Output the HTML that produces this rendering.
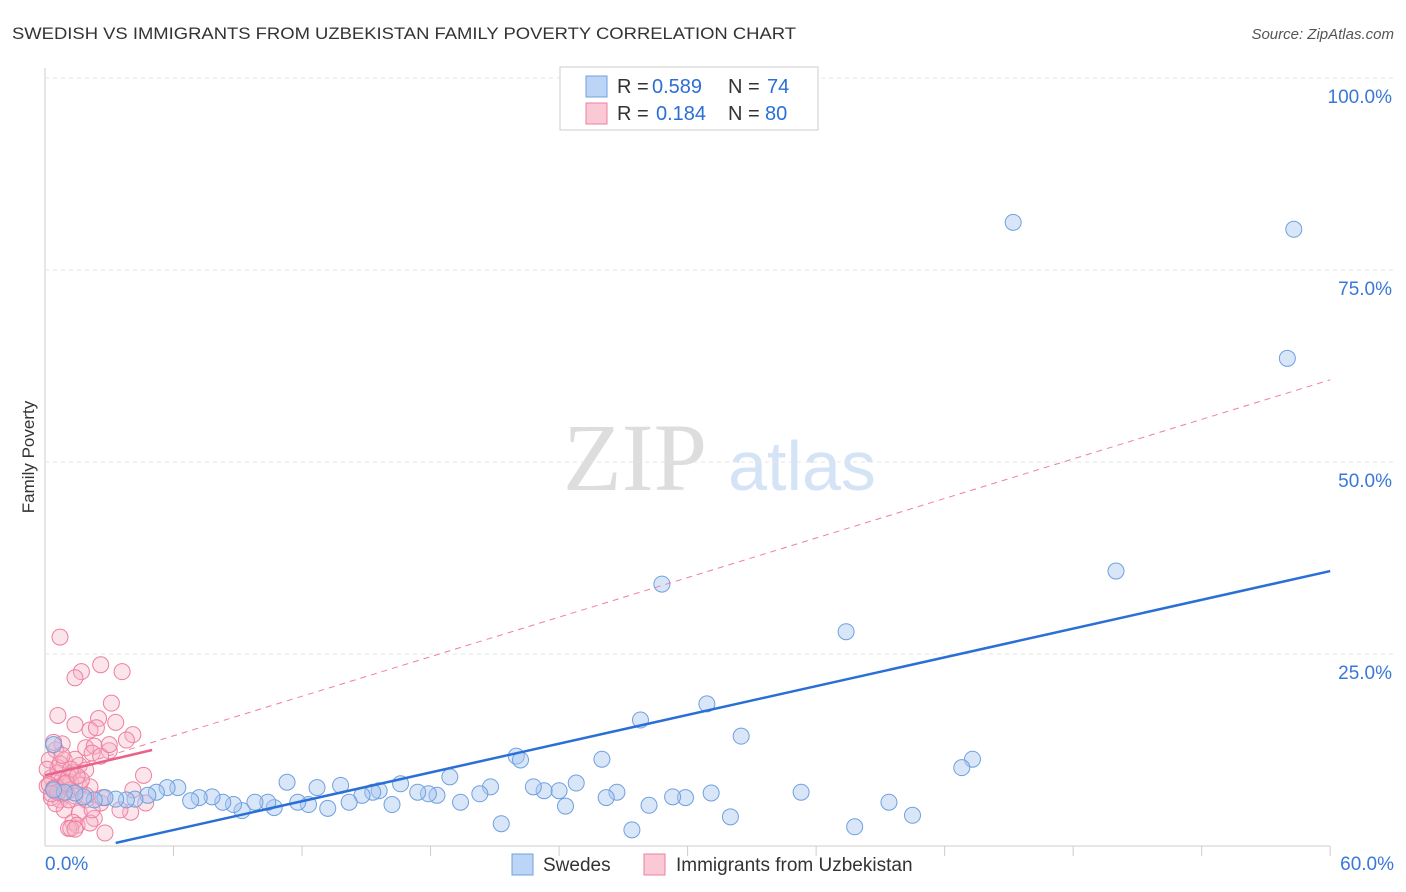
<!DOCTYPE html>
<html><head><meta charset="utf-8"><style>
body{margin:0;background:#fff;font-family:"Liberation Sans",sans-serif;}
svg{display:block}
</style></head><body>
<svg id="c" width="1406" height="892">
<text x="12" y="39" font-size="17" fill="#333" textLength="784" lengthAdjust="spacingAndGlyphs">SWEDISH VS IMMIGRANTS FROM UZBEKISTAN FAMILY POVERTY CORRELATION CHART</text>
<text x="1394" y="39" font-size="15" fill="#555" font-style="italic" text-anchor="end">Source: ZipAtlas.com</text>
<text x="34" y="457" font-size="17" fill="#333" text-anchor="middle" transform="rotate(-90 34 457)">Family Poverty</text>
<g><text x="635" y="490" font-size="96" fill="#ddd" font-family="Liberation Serif,serif" text-anchor="middle">ZIP</text><text x="802" y="490" font-size="70" fill="#d4e3f5" text-anchor="middle">atlas</text></g>
<g id="grid"></g><g id="pts"></g><g id="lines"></g>
<g>
<rect x="560" y="67" width="258" height="63" fill="#fff" stroke="#ccc"/>
<rect x="586" y="76" width="21" height="21" fill="#bcd4f5" stroke="#6fa0e0"/>
<rect x="586" y="103" width="21" height="21" fill="#fbc8d6" stroke="#ee7fa0"/>
<text x="617" y="93" font-size="20" fill="#333">R = <tspan x="652" fill="#2a6fd6">0.589</tspan><tspan x="728">N = </tspan><tspan x="767" fill="#2a6fd6">74</tspan></text>
<text x="617" y="120" font-size="20" fill="#333">R = <tspan x="656" fill="#2a6fd6">0.184</tspan><tspan x="728">N = </tspan><tspan x="765" fill="#2a6fd6">80</tspan></text>
</g>
<g>
<rect x="512" y="854" width="21" height="21" fill="#bcd4f5" stroke="#6fa0e0"/><text x="543" y="871" font-size="19" fill="#333">Swedes</text>
<rect x="644" y="854" width="21" height="21" fill="#fbc8d6" stroke="#ee7fa0"/><text x="676" y="871" font-size="19" fill="#333">Immigrants from Uzbekistan</text>
</g>
</svg>
<script>
const yTicks=[25,50,75,100];
const xLabels=["0.0%","60.0%"];
const blueX=[45.2,58.3,58,50,28.8,37.4,30.9,27.8,32.5,22,22.2,26,43.3,42.8,35.3,31.1,29.9,29.3,26.7,26.2,28.2,24.8,24,23.3,22.8,24.3,20.8,20.3,19.4,18.9,18.3,17.9,17.4,16.6,16.2,15.6,15.3,14.8,14.2,13.8,13.2,12.7,12.3,11.8,11.3,10.7,10.4,9.8,9.2,8.8,8.3,7.8,7.2,6.8,6.2,5.7,5.2,4.8,4.2,3.8,3.3,2.8,2.3,1.8,1.4,0.9,0.4,0.4,21.3,27.4,32,37.8,39.4,40.5];
const blueY=[81.2,80.3,63.5,35.8,34.1,27.9,18.5,16.4,14.3,11.7,11.2,11.3,11.3,10.2,7.0,6.9,6.3,6.4,7,6.3,5.3,8.2,7.2,7.2,7.7,5.2,7.7,6.8,5.7,9.0,6.6,6.8,7.0,8.1,5.4,7.2,7,6.6,5.7,7.9,4.9,7.6,5.4,5.7,8.3,5.0,5.7,5.7,4.6,5.4,5.7,6.4,6.3,5.9,7.6,7.6,7,6.6,6.1,6,6.1,6.3,6,6.4,6.9,7,13.2,7.3,2.9,2.1,3.8,2.5,5.7,4.0];
const pinkX=[0.7,2.6,1.7,1.4,3.6,3.1,0.6,2.5,1.4,3.3,2.1,4.1,0.8,1.9,2.3,3.8,3.0,2.2,2.6,4.6,0.5,0.9,0.6,1.3,1.6,1.9,0.3,0.8,1.2,1.6,2.1,0.5,1.0,1.4,0.1,0.3,0.7,1.9,2.6,2.7,0.9,1.6,2.3,1.3,1.5,1.1,2.1,2.8,4,4.7,0.2,0.6,1.1,1.7,0.5,0.9,1.2,0.1,0.7,1.4,1.9,2.2,0.5,0.8,1.1,3.5,4.1,1.2,1.4,3,2.4,0.8,0.4,1.2,0.2,0.4,0.6,1.0,1.5,0.3];
const pinkY=[27.2,23.6,22.7,21.9,22.7,18.6,17,16.6,15.8,16.1,15.1,14.5,13.3,12.8,13,13.8,12.4,12.1,11.7,9.2,12.5,11.2,10.2,9.6,10.5,9.9,8.9,8.6,8.3,7.9,7.7,7.3,7,6.5,7.8,6.3,6.0,6.0,5.6,6.3,4.7,4.3,3.6,3.1,2.7,2.3,3,1.7,4.4,5.6,11.2,9.5,9,8.6,7.6,8.1,7.3,10.0,10.7,11.3,6.6,4.7,5.5,6.8,6.0,4.7,7.3,2.3,2.2,13.2,15.4,11.8,13.5,10,8,7.5,7,8.2,9.1,6.8];
const X=v=>45+v*21.42, Y=v=>846-v*7.68;
const ns="http://www.w3.org/2000/svg";
function mk(t,a,p){const e=document.createElementNS(ns,t);for(const k in a)e.setAttribute(k,a[k]);p.appendChild(e);return e;}
const g=document.getElementById('grid');
mk('line',{x1:45,y1:68,x2:45,y2:846,stroke:'#ccc'},g);
mk('line',{x1:45,y1:846,x2:1330,y2:846,stroke:'#ccc'},g);
for(let i=1;i<=10;i++){mk('line',{x1:X(i*6),y1:846,x2:X(i*6),y2:856,stroke:'#ccc'},g);}
yTicks.forEach(t=>{const l=mk('line',{x1:45,y1:Y(t),x2:1394,y2:Y(t),stroke:'#e4e4e4','stroke-dasharray':'4,4'},g);


const tx=mk('text',{x:1392,y:Y(t)+25,'font-size':19,fill:'#3a78d8','text-anchor':'end'},g);tx.textContent=t.toFixed(1)+'%';

});
const a=mk('text',{x:45,y:870,'font-size':19,fill:'#3a78d8'},g);a.textContent=xLabels[0];


const b=mk('text',{x:1394,y:870,'font-size':19,fill:'#3a78d8','text-anchor':'end'},g);b.textContent=xLabels[1];


const p=document.getElementById('pts');
pinkX.forEach((v,i)=>{const c=mk('circle',{cx:X(v),cy:Y(pinkY[i]),r:8,fill:'#f7b3c7','fill-opacity':0.35,stroke:'#ee7fa0','stroke-width':1},p);

});
blueX.forEach((v,i)=>{const c=mk('circle',{cx:X(v),cy:Y(blueY[i]),r:8,fill:'#a9c8f0','fill-opacity':0.45,stroke:'#6fa0e0','stroke-width':1},p);

});
const L=document.getElementById('lines');
const bl=mk('line',{x1:X(3.3),y1:Y(0.4),x2:X(60),y2:Y(35.8),stroke:'#2a6fd6','stroke-width':2.5},L);


const pd=mk('line',{x1:X(0),y1:Y(9.2),x2:X(60),y2:Y(60.7),stroke:'#ee7fa0','stroke-width':1,'stroke-dasharray':'6,5'},L);


const ps=mk('line',{x1:X(0),y1:Y(9.2),x2:X(5),y2:Y(12.5),stroke:'#e8628a','stroke-width':2.5},L);


</script>
</body></html>
